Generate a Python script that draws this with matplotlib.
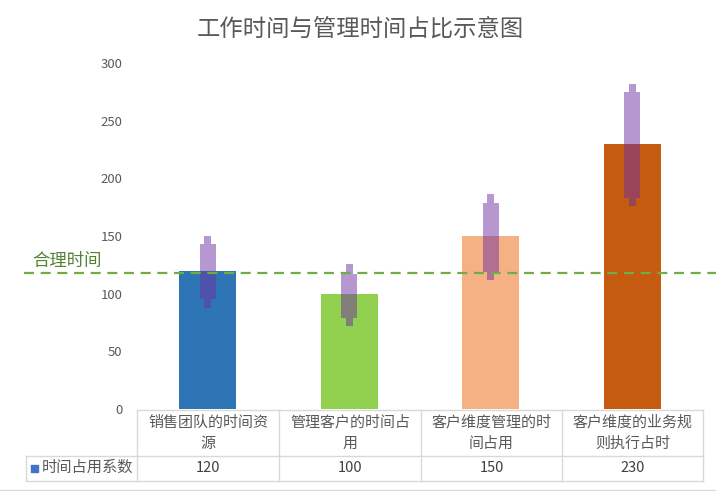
import matplotlib
matplotlib.use("Agg")
import matplotlib.pyplot as plt
from matplotlib.lines import Line2D
import matplotlib.transforms as mtransforms

plt.rcParams['font.family'] = ['Noto Sans CJK SC', 'DejaVu Sans']

categories = ["销售团队的时间资\n源", "管理客户的时间占\n用", "客户维度管理的时\n间占用", "客户维度的业务规\n则执行占时"]
values = [120, 100, 150, 230]
bar_colors = ["#2E75B6", "#92D050", "#F4B183", "#C55A11"]
series_name = "时间占用系数"

high = [150, 126, 186, 282]
box_top = [143, 117, 179, 275]
box_bottom = [95, 79, 119, 183]
low = [88, 72, 112, 176]

reasonable = 118
reasonable_label = "合理时间"
title = "工作时间与管理时间占比示意图"
yticks = [0, 50, 100, 150, 200, 250, 300]

W, H = 716, 491
fig = plt.figure(figsize=(W / 100, H / 100), dpi=100)
ax = fig.add_axes([137 / W, 1 - 409 / H, (703 - 137) / W, (409 - 63) / H])

x = list(range(len(categories)))
ax.bar(x, values, width=0.4, color=bar_colors, zorder=2)

purple = "#7030A0"
ax.bar(x, [t - b for t, b in zip(box_top, box_bottom)], bottom=box_bottom,
       width=0.113, color=purple, alpha=0.5, zorder=3, linewidth=0)
ax.bar(x, [h - t for h, t in zip(high, box_top)], bottom=box_top,
       width=0.05, color=purple, alpha=0.5, zorder=3, linewidth=0)
ax.bar(x, [b - l for b, l in zip(box_bottom, low)], bottom=low,
       width=0.05, color=purple, alpha=0.5, zorder=3, linewidth=0)

ax.set_xlim(-0.5, len(categories) - 0.5)
ax.set_ylim(0, 300)
ax.set_yticks(yticks)
ax.set_xticks([])
ax.tick_params(axis="y", length=0, labelsize=9.5, labelcolor="#595959", pad=10.5)
for s in ax.spines.values():
    s.set_visible(False)

# reasonable time line, running past the plot area
trans = mtransforms.blended_transform_factory(fig.transFigure, ax.transData)
ax.add_line(Line2D([24 / W, 1.0], [reasonable, reasonable], transform=trans,
                   color="#70AD47", lw=1.6, ls=(0, (4.5, 3)), clip_on=False, zorder=5))
fig.text(32 / W, 1 - 261 / H, reasonable_label, color="#548235", fontsize=12.5,
         ha="left", va="center")

fig.text(360 / W, 1 - 29 / H, title, color="#595959", fontsize=16.8, ha="center", va="center")

# data table
grid = "#D9D9D9"
def hline(y, x0, x1):
    fig.add_artist(Line2D([x0 / W, x1 / W], [1 - y / H, 1 - y / H], color=grid, lw=1))
def vline(xp, y0, y1):
    fig.add_artist(Line2D([xp / W, xp / W], [1 - y0 / H, 1 - y1 / H], color=grid, lw=1))

col_edges = [137, 279, 421, 562, 703]
hline(410, 137, 703)
hline(456, 26, 703)
hline(481, 26, 703)
for xe in col_edges:
    vline(xe, 410, 481)
vline(26, 456, 481)
hline(489.5, 0, W)

for i, (cat, v) in enumerate(zip(categories, values)):
    cx = (col_edges[i] + col_edges[i + 1]) / 2
    fig.text(cx / W, 1 - 433 / H, cat, ha="center", va="center", fontsize=10.8,
             color="#595959", linespacing=1.65)
    fig.text(cx / W, 1 - 468 / H, str(v), ha="center", va="center", fontsize=10.5,
             color="#404040")

fig.add_artist(plt.Rectangle((31 / W, 1 - 471.5 / H), 7 / W, 7 / H, color="#4472C4",
                             transform=fig.transFigure))
fig.text(42 / W, 1 - 467 / H, series_name, ha="left", va="center", fontsize=11,
         color="#595959")

fig.savefig("out.png", dpi=100)
